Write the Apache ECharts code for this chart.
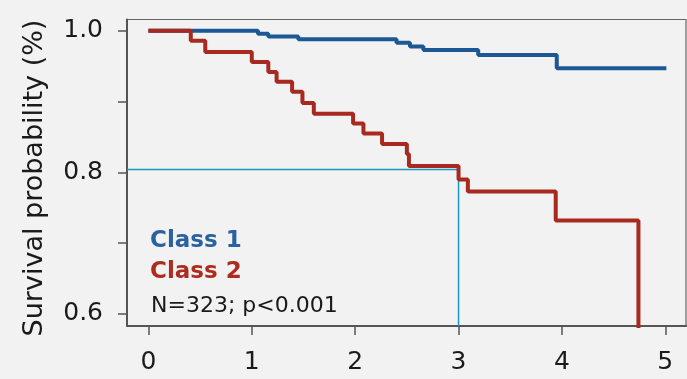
<!DOCTYPE html>
<html>
<head>
<meta charset="utf-8">
<script src="https://cdn.jsdelivr.net/npm/echarts@6/dist/echarts.min.js"></script>
<style>
  html, body { margin: 0; padding: 0; background: #f2f2f2; }
  #chart { width: 687px; height: 379px; }
</style>
</head>
<body>
<div id="chart"></div>
<script>
// Kaplan-Meier steps: [time in years, survival probability]
const class1Steps = [
  [0, 1.0], [1.06, 0.996], [1.16, 0.992], [1.45, 0.988], [2.40, 0.983],
  [2.53, 0.978], [2.66, 0.973], [3.19, 0.966], [3.95, 0.947], [5.01, 0.947]
];
const class2Steps = [
  [0, 1.0], [0.41, 0.986], [0.55, 0.970], [1.00, 0.956], [1.16, 0.942],
  [1.24, 0.928], [1.39, 0.914], [1.49, 0.898], [1.60, 0.883], [1.98, 0.869],
  [2.08, 0.855], [2.26, 0.840], [2.50, 0.826], [2.52, 0.809], [3.00, 0.790],
  [3.09, 0.773], [3.94, 0.732], [4.74, 0.55]
];
// 3-year survival guide
const refTime = 3;
const refSurvival = 0.804;

const xTicks = [0, 1, 2, 3, 4, 5];
const yTicks = [0.6, 0.7, 0.8, 0.9, 1.0];
const yLabels = [0.6, 0.8, 1.0];

const legendLines = ['Class 1', 'Class 2', 'N=323; p<0.001'];

const xMin = -0.207, xMax = 5.2;
const yMin = 0.583, yMax = 1.016;

const FONT = '"DejaVu Sans", sans-serif';
const AXIS_COLOR = '#555555';

const chart = echarts.init(document.getElementById('chart'), null, { renderer: 'canvas' });

chart.setOption({
  backgroundColor: '#f2f2f2',
  animation: false,
  grid: {
    left: 127, right: 1, top: 19.5, bottom: 53,
    show: true, borderColor: '#666666', borderWidth: 1.2,
    backgroundColor: 'transparent'
  },
  xAxis: {
    type: 'value', min: xMin, max: xMax,
    axisLine: { show: true, onZero: false, lineStyle: { color: AXIS_COLOR, width: 2 } },
    axisTick: { show: true, customValues: xTicks, length: 9, lineStyle: { color: AXIS_COLOR, width: 1.5 } },
    axisLabel: {
      customValues: xTicks, margin: 24,
      fontFamily: FONT, fontSize: 25, color: '#1a1a1a',
      formatter: v => String(v)
    },
    splitLine: { show: false }
  },
  yAxis: {
    type: 'value', min: yMin, max: yMax,
    axisLine: { show: true, onZero: false, lineStyle: { color: AXIS_COLOR, width: 2 } },
    axisTick: { show: true, customValues: yTicks, length: 9, lineStyle: { color: AXIS_COLOR, width: 1.5 } },
    axisLabel: {
      customValues: yLabels, margin: 24,
      fontFamily: FONT, fontSize: 25, color: '#1a1a1a',
      formatter: v => v.toFixed(1)
    },
    splitLine: { show: false }
  },
  graphic: [
    {
      type: 'text', x: 35, y: 178, rotation: Math.PI / 2,
      style: {
        text: 'Survival probability (%)', fontFamily: FONT, fontSize: 27,
        fill: '#1a1a1a', align: 'center', verticalAlign: 'middle'
      }
    },
    {
      type: 'text', x: 150, y: 241,
      style: { text: legendLines[0], fontFamily: FONT, fontSize: 23, fontWeight: 'bold',
               fill: '#2a62a0', align: 'left', verticalAlign: 'middle' }
    },
    {
      type: 'text', x: 150, y: 272.5,
      style: { text: legendLines[1], fontFamily: FONT, fontSize: 23, fontWeight: 'bold',
               fill: '#ad2c20', align: 'left', verticalAlign: 'middle' }
    },
    {
      type: 'text', x: 151, y: 306,
      style: { text: legendLines[2], fontFamily: FONT, fontSize: 22,
               fill: '#1a1a1a', align: 'left', verticalAlign: 'middle' }
    }
  ],
  series: [
    {
      name: 'ref', type: 'line', symbol: 'none', silent: true,
      data: [[xMin, refSurvival], [refTime, refSurvival], [refTime, yMin]],
      lineStyle: { color: '#1b98bd', width: 1.5 }
    },
    {
      name: 'Class 1', type: 'line', step: 'end', symbol: 'none', clip: true,
      data: class1Steps,
      lineStyle: { color: '#1d5894', width: 4 }
    },
    {
      name: 'Class 2', type: 'line', step: 'end', symbol: 'none', clip: true,
      data: class2Steps,
      lineStyle: { color: '#a8291f', width: 4 }
    }
  ]
});
</script>
</body>
</html>
